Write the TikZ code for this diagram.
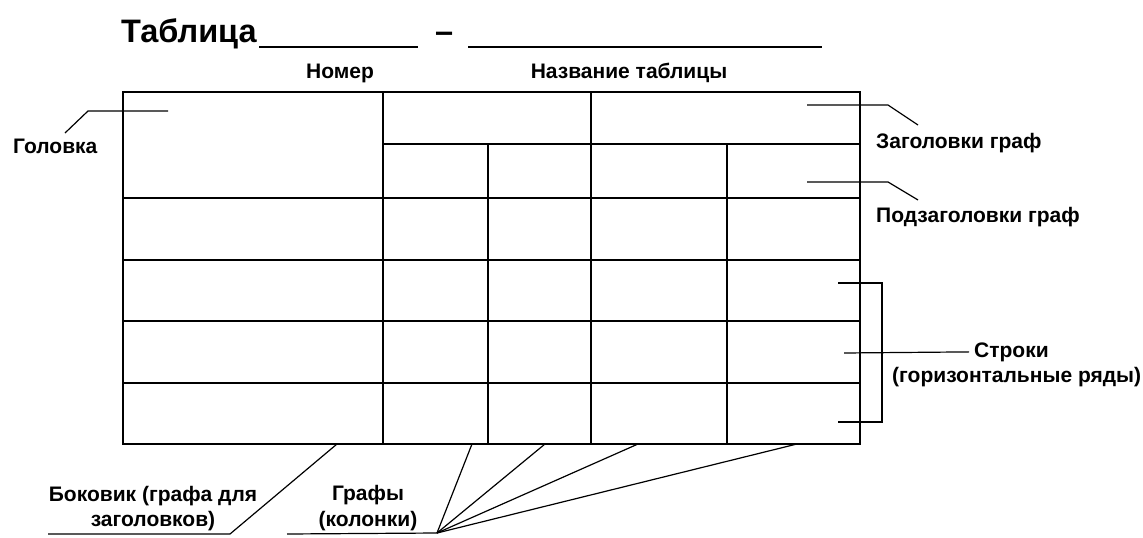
\documentclass[tikz,border=0pt]{standalone}
\usepackage{fontspec}
\setmainfont{Liberation Sans}
\begin{document}
\begin{tikzpicture}[
        x=1pt, y=-1pt,
        lbl/.style={inner sep=0pt, font=\fontsize{21}{25}\selectfont\bfseries},
        big/.style={inner sep=0pt, font=\fontsize{32.5}{40}\selectfont\bfseries},
        grid/.style={line width=1.7pt},
        leader/.style={line width=1.2pt},
        blank/.style={line width=2.8pt}
    ]
\useasboundingbox (0,0) rectangle (1143,538);

% Title line
        \node[big, anchor=base west] (title) at (121,42) {Таблица};
        \node[big, anchor=base west] (dash) at (435,42) {–};
        \draw[blank] (259,47) -- (418,47);
        \draw[blank] (468,47) -- (822,47);
        \node[lbl, anchor=base] (nomer) at (340,78) {Номер};
        \node[lbl, anchor=base] (nazv) at (629,78) {Название таблицы};

% Table grid
        \draw[grid] (123,92) rectangle (860,444);
        \foreach \y in {198,260,321,383} \draw[grid] (123,\y) -- (860,\y);
        \draw[grid] (383,144) -- (860,144);
        \foreach \x in {383,591} \draw[grid] (\x,92) -- (\x,444);
        \foreach \x in {488,727} \draw[grid] (\x,144) -- (\x,444);

% Labels
        \node[lbl, anchor=base west] (golovka) at (13,153) {Головка};
        \node[lbl, anchor=base west] (zag) at (876,148) {Заголовки граф};
        \node[lbl, anchor=base west] (podzag) at (876,222) {Подзаголовки граф};
        \node[lbl, anchor=base west] (stroki1) at (974,357) {Строки};
        \node[lbl, anchor=base west] (stroki2) at (892,382) {(горизонтальные ряды)};
        \node[lbl, anchor=base] (bok1) at (153,501) {Боковик (графа для};
        \node[lbl, anchor=base] (bok2) at (153,526) {заголовков)};
        \node[lbl, anchor=base] (grafy1) at (368,500) {Графы};
        \node[lbl, anchor=base] (grafy2) at (368,526) {(колонки)};

% Leaders
        \coordinate (head) at (168,111);
        \coordinate (head-tip) at (65,133);
        \draw[leader] (head) -- (88,111) -- (head-tip);
        \coordinate (zag-in) at (807,105);
        \draw[leader] (zag-in) -- ++(81,0) -- ++(30,20);
        \coordinate (podzag-in) at (807,182);
        \draw[leader] (podzag-in) -- ++(81,0) -- ++(30,18);
        \coordinate (br-top) at (838,283);
        \coordinate (br-bot) at (838,422);
        \coordinate (rows) at (844,353);
        \draw[leader] (br-top) -- ++(44,0) |- (br-bot);
        \draw[leader, shorten >=5pt] (rows) -- (stroki1.west);
        \coordinate (bok-top) at (337,444);
        \coordinate (bok-foot) at (230,534);
        \coordinate (bok-end) at (48,534);
        \draw[leader] (bok-top) -- (bok-foot) -- (bok-end);
        \coordinate (fan) at (437,533);
        \coordinate (fan-end) at (287,534);
        \draw[leader] (fan-end) -- (fan);
        \foreach \x [count=\i] in {472,545,638,797} {
            \coordinate (col\i) at (\x,444);
            \draw[leader] (fan) -- (col\i);
        }

    \end{tikzpicture}
\end{document}
